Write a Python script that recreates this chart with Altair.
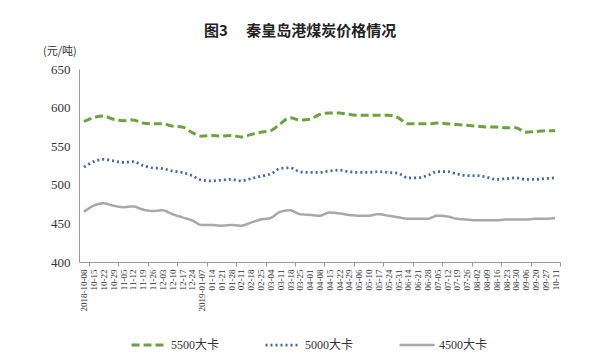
import altair as alt
import pandas as pd

title_text = "图3\u3000\u00a0秦皇岛港煤炭价格情况"
unit_text = "(元/吨)"

dates = ["2018-10-08", "10-15", "10-22", "10-29", "11-05", "11-12", "11-19", "11-26",
         "12-03", "12-10", "12-17", "12-24", "2019-01-07", "01-14", "01-21", "01-28",
         "02-11", "02-18", "02-25", "03-04", "03-11", "03-18", "03-25", "04-01",
         "04-08", "04-15", "04-22", "04-29", "05-06", "05-10", "05-17", "05-24",
         "05-31", "06-14", "06-21", "06-28", "07-05", "07-12", "07-19", "07-26",
         "08-02", "08-09", "08-16", "08-23", "08-30", "09-06", "09-20", "09-27", "10-11"]

s5500 = [582, 587, 589, 585, 583, 584, 580, 579, 579, 576, 575, 568, 563, 564, 563, 564,
         562, 565, 568, 570, 579, 587, 584, 585, 591,
         593, 593, 591, 590, 590, 590, 590, 587, 579, 579, 579, 580, 579, 578, 577,
         576, 575, 575, 574, 574, 568, 569, 570, 570]
s5000 = [523, 530, 533, 531, 529, 530, 525, 522, 521, 518, 516, 512, 506, 505, 506, 507,
         505, 508, 511, 514, 521, 522, 517, 516, 516,
         518, 519, 517, 516, 516, 517, 516, 515, 509, 509, 512, 517, 517, 514, 512,
         512, 510, 507, 508, 509, 507, 507, 508, 509]
s4500 = [465, 473, 476, 473, 471, 472, 468, 466, 467, 462, 458, 454, 448, 448, 447, 448,
         447, 451, 455, 457, 465, 467, 462, 461, 460,
         464, 463, 461, 460, 460, 462, 460, 458, 456, 456, 456, 460, 459, 456, 455,
         454, 454, 454, 455, 455, 455, 456, 456, 457]

series_names = ["5500大卡", "5000大卡", "4500大卡"]
series_colors = ["#6BA33C", "#3D68B2", "#A8A8A8"]
series_dash = [[8, 4], [2, 3], [1, 0]]
series_width = [3, 2.5, 2]
y_ticks = [400, 450, 500, 550, 600, 650]

rows = []
for name, vals in zip(series_names, [s5500, s5000, s4500]):
    for i, v in enumerate(vals):
        rows.append({"idx": i, "price": v, "series": name})
df = pd.DataFrame(rows)

n = len(dates)
label_js = "[" + ",".join("'" + d + "'" for d in dates) + "]"
x_vals = sorted(list(range(n)) + [k + 0.5 for k in range(0, n, 3)])

SERIF = "Liberation Serif, Times New Roman, Noto Sans CJK SC"

x_axis = alt.Axis(
    values=x_vals,
    labelExpr="datum.value % 1 == 0 ? " + label_js + "[datum.value] : ''",
    labelAngle=270, labelFont=SERIF, labelFontSize=9, labelColor="#333",
    labelPadding=3, labelOverlap=False, labelFlush=False, labelBound=False,
    tickSize=4, tickColor="#999",
    tickOpacity={"condition": {"test": "datum.value % 1 != 0", "value": 1}, "value": 0},
    domainColor="#999", grid=False, title=None,
)
y_axis = alt.Axis(
    values=y_ticks, labelFont=SERIF, labelFontSize=13, labelColor="#333",
    labelPadding=9, ticks=False, domainColor="#999", grid=False, title=None,
)

lines = alt.Chart(df).mark_line(interpolate="monotone").encode(
    x=alt.X("idx:Q", scale=alt.Scale(domain=[-0.5, n - 0.5], nice=False, zero=False), axis=x_axis),
    y=alt.Y("price:Q", scale=alt.Scale(domain=[400, 650], nice=False, zero=False), axis=y_axis),
    color=alt.Color("series:N", scale=alt.Scale(domain=series_names, range=series_colors), title=None),
    strokeDash=alt.StrokeDash("series:N", scale=alt.Scale(domain=series_names, range=series_dash), title=None),
    strokeWidth=alt.StrokeWidth("series:N", scale=alt.Scale(domain=series_names, range=series_width), title=None),
    order="idx:Q",
)

title_mark = alt.Chart(pd.DataFrame({"t": [title_text]})).mark_text(
    font="Noto Sans CJK SC", fontSize=15, fontWeight="bold", color="#222",
    align="center", baseline="middle",
).encode(x=alt.value(221), y=alt.value(-38), text="t:N")

unit_mark = alt.Chart(pd.DataFrame({"t": [unit_text]})).mark_text(
    font="Noto Sans CJK SC", fontSize=11, color="#333",
    align="left", baseline="middle",
).encode(x=alt.value(-36), y=alt.value(-17), text="t:N")

chart = alt.layer(lines, title_mark, unit_mark).properties(
    width=481, height=193,
    autosize=alt.AutoSizeParams(type="none"),
    padding={"left": 79, "top": 69, "right": 40, "bottom": 96},
).configure_view(stroke=None).configure_legend(
    orient="none", legendX=51, legendY=257, direction="horizontal", columns=3,
    symbolType="stroke", symbolSize=1225, labelFont=SERIF, labelFontSize=12,
    labelColor="#333", labelOffset=3, columnPadding=40, title=None,
)

chart.save("out.html", embed_options={"renderer": "svg", "actions": False})
